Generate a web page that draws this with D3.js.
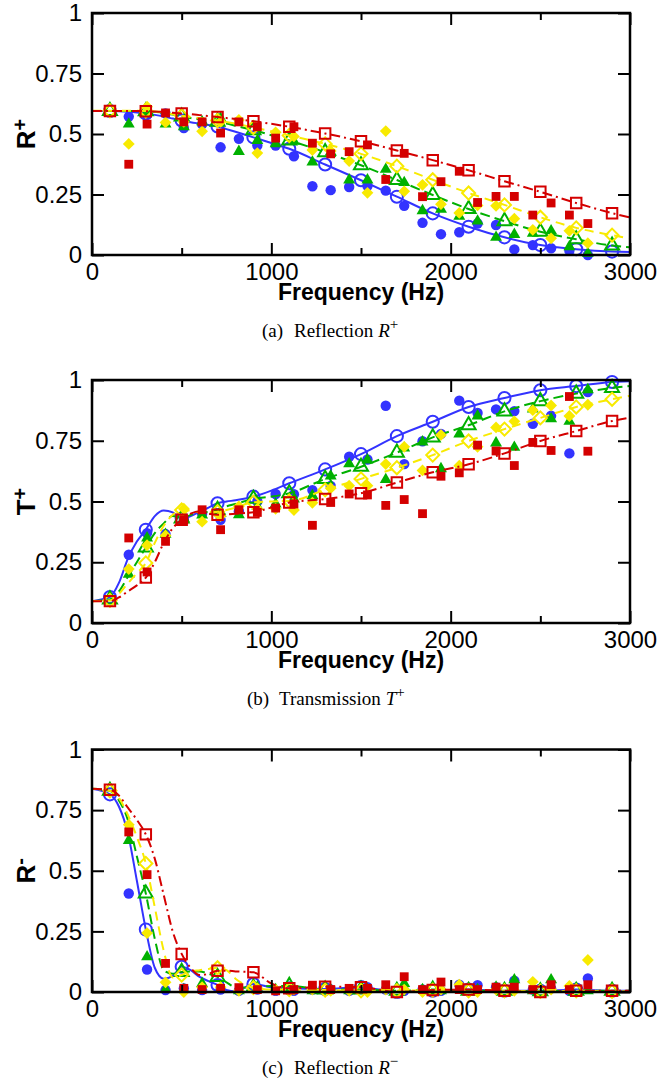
<!DOCTYPE html>
<html><head><meta charset="utf-8">
<script src="https://cdn.jsdelivr.net/npm/d3@7"></script>
<style>body{margin:0;background:#fff} svg{display:block}</style>
</head><body>
<svg id="chart" width="659" height="1087"></svg>
<script>
// ---------- series definitions ----------
const seriesNames  = ["blue", "green", "yellow", "red"];
const seriesColors = ["#3333ff", "#00b000", "#f8ea00", "#d40000"];
const seriesShapes = ["circle", "triangle", "diamond", "square"];
const seriesDash   = [null, "10,5", "9,6", "10,4,2,4"];

// ---------- ticks ----------
const xTicksMajor = [0, 1000, 2000, 3000];
const xTicksMinor = [500, 1500, 2500];
const yTicks = [0, 0.25, 0.5, 0.75, 1];

// ---------- frequencies ----------
const curveFreqs = [0,100,150,200,250,300,350,400,450,500,550,600,650,700,750,800,900,1000,1100,1300,1500,1700,1900,2100,2300,2500,2700,2900,3000];
const modelMarkerFreqs = [100,300,500,700,900,1100,1300,1500,1700,1900,2100,2300,2500,2700,2900];
const expFreqs = [205,307,410,512,614,717,819,922,1024,1126,1229,1331,1434,1536,1638,1741,1843,1946,2048,2150,2253,2355,2458,2560,2662,2765];

// ---------- (a) Reflection R+ : model curves ----------
const aModelBlue   = [0.595,0.595,0.594,0.592,0.589,0.585,0.579,0.572,0.564,0.556,0.549,0.543,0.537,0.531,0.520,0.509,0.486,0.463,0.439,0.374,0.309,0.241,0.172,0.117,0.073,0.041,0.024,0.014,0.012];
const aModelGreen  = [0.595,0.595,0.595,0.595,0.595,0.594,0.591,0.587,0.580,0.572,0.566,0.561,0.556,0.551,0.543,0.534,0.516,0.495,0.473,0.425,0.371,0.310,0.248,0.190,0.140,0.096,0.065,0.039,0.032];
const aModelYellow = [0.596,0.596,0.596,0.596,0.596,0.595,0.593,0.589,0.582,0.575,0.570,0.566,0.561,0.556,0.550,0.543,0.527,0.511,0.494,0.459,0.418,0.367,0.311,0.256,0.207,0.156,0.112,0.082,0.068];
const aModelRed    = [0.595,0.595,0.595,0.595,0.595,0.594,0.593,0.591,0.588,0.585,0.582,0.578,0.574,0.570,0.566,0.562,0.553,0.542,0.530,0.502,0.470,0.432,0.392,0.350,0.305,0.261,0.215,0.173,0.155];
// (a) experiments
const aExpBlue   = [0.572,0.58,0.585,0.525,0.54,0.445,0.48,0.452,0.452,0.408,0.284,0.268,0.281,0.285,0.266,0.203,0.133,0.086,0.094,0.13,0.124,0.023,0.041,0.028,0.018,0.0];
const aExpGreen  = [0.541,0.59,0.541,0.53,0.55,0.565,0.428,0.473,0.46,0.47,0.384,0.425,0.31,0.31,0.354,0.299,0.183,0.189,0.16,0.14,0.073,0.085,0.09,0.10,0.034,0.007];
const aExpYellow = [0.459,0.613,0.548,0.55,0.511,0.55,0.558,0.421,0.507,0.49,0.434,0.43,0.388,0.257,0.512,0.263,0.29,0.21,0.174,0.205,0.203,0.15,0.104,0.069,0.10,0.049];
const aExpRed    = [0.375,0.541,0.587,0.55,0.55,0.504,0.55,0.53,0.483,0.53,0.462,0.418,0.427,0.455,0.312,0.42,0.241,0.303,0.346,0.217,0.242,0.242,0.165,0.215,0.165,0.13];

// ---------- (b) Transmission T+ ----------
const bModelBlue   = [0.09,0.107,0.165,0.265,0.335,0.384,0.44,0.463,0.455,0.43,0.44,0.458,0.475,0.493,0.50,0.505,0.52,0.545,0.575,0.632,0.695,0.769,0.828,0.889,0.926,0.958,0.975,0.992,0.995];
const bModelGreen  = [0.09,0.097,0.13,0.19,0.25,0.311,0.37,0.41,0.44,0.43,0.445,0.452,0.458,0.466,0.48,0.49,0.511,0.52,0.534,0.593,0.643,0.701,0.764,0.814,0.871,0.913,0.944,0.967,0.975];
const bModelYellow = [0.09,0.093,0.12,0.163,0.205,0.247,0.33,0.40,0.445,0.465,0.462,0.456,0.455,0.458,0.465,0.475,0.497,0.50,0.502,0.548,0.593,0.639,0.691,0.749,0.798,0.844,0.889,0.921,0.935];
const bModelRed    = [0.09,0.09,0.105,0.13,0.155,0.187,0.25,0.33,0.39,0.425,0.45,0.46,0.45,0.445,0.447,0.45,0.456,0.475,0.496,0.51,0.534,0.578,0.620,0.653,0.698,0.749,0.790,0.831,0.845];
const bExpBlue   = [0.281,0.37,0.366,0.425,0.45,0.425,0.46,0.50,0.531,0.53,0.547,0.564,0.684,0.673,0.894,0.654,0.748,0.778,0.915,0.864,0.879,0.872,0.82,0.853,0.698,0.95];
const bExpGreen  = [0.20,0.35,0.365,0.43,0.444,0.45,0.445,0.48,0.49,0.51,0.525,0.605,0.655,0.671,0.59,0.72,0.745,0.635,0.778,0.852,0.741,0.723,0.88,0.84,0.83,0.96];
const bExpYellow = [0.222,0.32,0.36,0.47,0.417,0.44,0.48,0.47,0.47,0.465,0.495,0.555,0.565,0.565,0.654,0.725,0.628,0.774,0.647,0.725,0.805,0.83,0.876,0.895,0.852,0.898];
const bExpRed    = [0.35,0.21,0.336,0.425,0.466,0.384,0.466,0.455,0.473,0.49,0.402,0.496,0.531,0.527,0.484,0.508,0.45,0.604,0.618,0.732,0.708,0.648,0.743,0.71,0.932,0.707];

// ---------- (c) Reflection R- ----------
const cModelBlue   = [0.838,0.815,0.765,0.655,0.46,0.258,0.10,0.055,0.065,0.104,0.09,0.062,0.045,0.029,0.008,0.002,0.033,0.02,0.015,0.012,0.02,0.0,0.005,0.01,0.005,0.005,0.01,0.005,0.005];
const cModelGreen  = [0.838,0.83,0.79,0.71,0.56,0.406,0.22,0.09,0.075,0.083,0.085,0.085,0.075,0.062,0.04,0.02,0.018,0.025,0.025,0.01,0.01,0.005,0.01,0.005,0.005,0.003,0.005,0.005,0.005];
const cModelYellow = [0.838,0.83,0.80,0.73,0.64,0.53,0.35,0.17,0.06,0.07,0.085,0.09,0.095,0.10,0.09,0.055,0.018,0.01,0.01,0.008,0.005,0.005,0.008,0.005,0.005,0.003,0.005,0.003,0.003];
const cModelRed    = [0.838,0.834,0.81,0.76,0.71,0.65,0.55,0.40,0.25,0.157,0.10,0.07,0.075,0.088,0.088,0.085,0.081,0.035,0.015,0.022,0.02,0.0,0.008,0.01,0.005,0.0,0.005,0.005,0.005];
const cExpBlue   = [0.406,0.093,0.008,0.015,0.008,0.01,0.005,0.01,0.005,0.005,0.01,0.01,0.005,0.02,0.01,0.005,0.01,0.005,0.03,0.028,0.02,0.047,0.01,0.015,0.005,0.056];
const cExpGreen  = [0.625,0.145,0.01,0.01,0.035,0.01,0.005,0.02,0.01,0.01,0.005,0.01,0.005,0.01,0.01,0.035,0.01,0.005,0.01,0.01,0.02,0.05,0.005,0.05,0.01,0.005];
const cExpYellow = [0.69,0.243,0.04,0.0,0.02,0.02,0.005,0.015,0.01,0.01,0.01,0.005,0.005,0.0,0.01,0.01,0.0,0.01,0.03,0.0,0.01,0.005,0.042,0.01,0.025,0.132];
const cExpRed    = [0.66,0.484,0.118,0.015,0.01,0.015,0.018,0.01,0.005,0.01,0.028,0.01,0.015,0.015,0.03,0.063,0.01,0.041,0.01,0.01,0.02,0.02,0.01,0.03,0.01,0.03];

// ---------- labels ----------
const xAxisTitle = "Frequency (Hz)";
const panelYLabels = [["R","+"],["T","+"],["R","-"]];
const panelCaptions = [["(a)","Reflection","R","+"],["(b)","Transmission","T","+"],["(c)","Reflection","R","\u2212"]];

// ---------- layout ----------
const xL = 92, xR = 630;
const layout = [
  {top: 13,    bottom: 255, capX: 262},
  {top: 380,   bottom: 623, capX: 247},
  {top: 749.5, bottom: 992, capX: 262}
];
const modelData = [
  [aModelBlue, aModelGreen, aModelYellow, aModelRed],
  [bModelBlue, bModelGreen, bModelYellow, bModelRed],
  [cModelBlue, cModelGreen, cModelYellow, cModelRed]
];
const expData = [
  [aExpBlue, aExpGreen, aExpYellow, aExpRed],
  [bExpBlue, bExpGreen, bExpYellow, bExpRed],
  [cExpBlue, cExpGreen, cExpYellow, cExpRed]
];

const svg = d3.select("#chart");
const x = d3.scaleLinear().domain([0, 3000]).range([xL, xR]);
const sansFont = "'Liberation Sans', Arial, Helvetica, sans-serif";
const serifFont = "'Liberation Serif', 'Times New Roman', Times, serif";

const symType = {circle: d3.symbolCircle, triangle: d3.symbolTriangle, diamond: d3.symbolSquare, square: d3.symbolSquare};
const filledSize = {circle: 85, triangle: 62, diamond: 70, square: 78};
const openSize   = {circle: 115, triangle: 85, diamond: 85, square: 110};

layout.forEach((L, pi) => {
  const y = d3.scaleLinear().domain([0, 1]).range([L.bottom, L.top]);
  const g = svg.append("g");

  seriesNames.forEach((name, si) => {
    const color = seriesColors[si];
    const shape = seriesShapes[si];
    const rot = shape === "diamond" ? " rotate(45)" : "";

    // experimental (filled markers)
    const exp = expFreqs.map((f, j) => [f, expData[pi][si][j]]);
    g.append("g").selectAll("path").data(exp).join("path")
      .attr("transform", d => `translate(${x(d[0])},${y(d[1])})${rot}`)
      .attr("d", d3.symbol().type(symType[shape]).size(filledSize[shape]))
      .attr("fill", color);

    // model curve
    const curve = curveFreqs.map((f, j) => [f, modelData[pi][si][j]]);
    g.append("path").datum(curve)
      .attr("d", d3.line().x(d => x(d[0])).y(d => y(d[1])).curve(d3.curveMonotoneX))
      .attr("fill", "none").attr("stroke", color).attr("stroke-width", 2)
      .attr("stroke-dasharray", seriesDash[si]);

    // model open markers
    const marks = curve.filter(d => modelMarkerFreqs.includes(d[0]));
    g.append("g").selectAll("path").data(marks).join("path")
      .attr("transform", d => `translate(${x(d[0])},${y(d[1])})${rot}`)
      .attr("d", d3.symbol().type(symType[shape]).size(openSize[shape]))
      .attr("fill", "none").attr("stroke", color).attr("stroke-width", 2);
  });

  // axes
  const ax = svg.append("g");
  const styleAxis = sel => {
    sel.select(".domain").remove();
    sel.selectAll("line").attr("stroke", "#000").attr("stroke-width", 2);
    sel.selectAll("text").attr("font-family", sansFont).attr("font-size", 24).attr("fill", "#000");
    sel.attr("font-family", null).attr("font-size", null);
  };
  ax.append("g").attr("transform", `translate(0,${L.bottom})`)
    .call(d3.axisBottom(x).tickValues(xTicksMajor).tickSize(-12).tickSizeOuter(0).tickPadding(8).tickFormat(d3.format("d")))
    .call(styleAxis);
  ax.append("g").attr("transform", `translate(0,${L.bottom})`)
    .call(d3.axisBottom(x).tickValues(xTicksMinor).tickSize(-7).tickSizeOuter(0).tickFormat(""))
    .call(styleAxis);
  ax.append("g").attr("transform", `translate(0,${L.top})`)
    .call(d3.axisTop(x).tickValues(xTicksMajor).tickSize(-12).tickSizeOuter(0).tickFormat(""))
    .call(styleAxis);
  ax.append("g").attr("transform", `translate(0,${L.top})`)
    .call(d3.axisTop(x).tickValues(xTicksMinor).tickSize(-7).tickSizeOuter(0).tickFormat(""))
    .call(styleAxis);
  ax.append("g").attr("transform", `translate(${xL},0)`)
    .call(d3.axisLeft(y).tickValues(yTicks).tickSize(-12).tickSizeOuter(0).tickPadding(10).tickFormat(d => String(d)))
    .call(styleAxis);
  ax.append("g").attr("transform", `translate(${xR},0)`)
    .call(d3.axisRight(y).tickValues(yTicks).tickSize(-12).tickSizeOuter(0).tickFormat(""))
    .call(styleAxis);

  ax.append("rect")
    .attr("x", xL).attr("y", L.top).attr("width", xR - xL).attr("height", L.bottom - L.top)
    .attr("fill", "none").attr("stroke", "#000").attr("stroke-width", 2.5);

  // y label
  const yl = ax.append("text")
    .attr("transform", `translate(35,${(L.top + L.bottom) / 2}) rotate(-90)`)
    .attr("text-anchor", "middle").attr("font-family", sansFont).attr("font-weight", "bold")
    .attr("font-size", 26).attr("fill", "#000");
  yl.append("tspan").text(panelYLabels[pi][0]);
  yl.append("tspan").attr("font-size", 20).attr("dy", -8).text(panelYLabels[pi][1]);

  // x title
  ax.append("text").attr("x", (xL + xR) / 2).attr("y", L.bottom + 45)
    .attr("text-anchor", "middle").attr("font-family", sansFont).attr("font-weight", "bold")
    .attr("font-size", 23).attr("fill", "#000").text(xAxisTitle);

  // caption
  const cap = panelCaptions[pi];
  const ct = ax.append("text").attr("x", L.capX).attr("y", L.bottom + 82)
    .attr("font-family", serifFont).attr("font-size", 19).attr("fill", "#000");
  ct.append("tspan").text(cap[0]);
  ct.append("tspan").attr("x", L.capX + 32).text(cap[1]);
  ct.append("tspan").attr("dx", 5).attr("font-style", "italic").text(cap[2]);
  ct.append("tspan").attr("dy", -8).attr("font-size", 15).text(cap[3]);
});
</script>
</body></html>
